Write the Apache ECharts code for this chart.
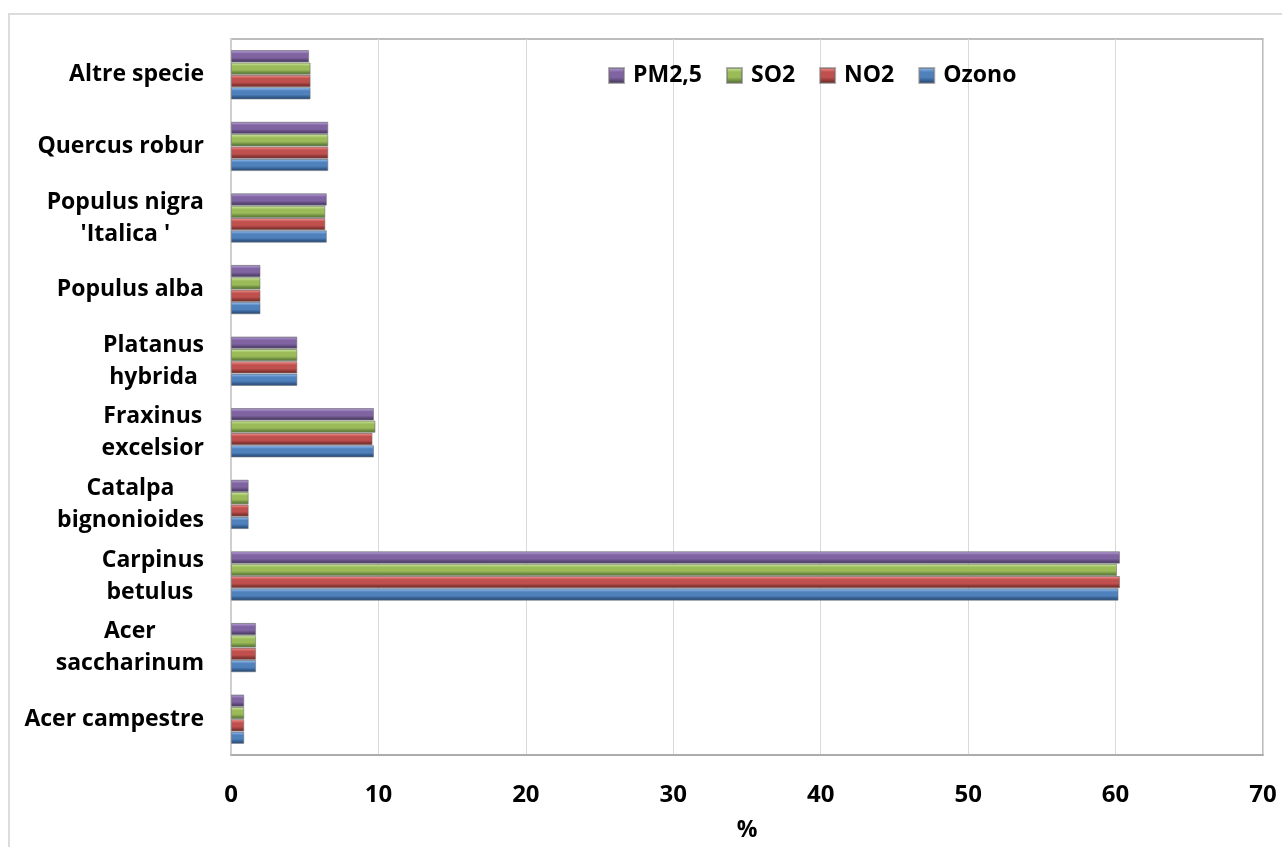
<!DOCTYPE html>
<html>
<head>
<meta charset="utf-8">
<script src="https://cdn.jsdelivr.net/npm/echarts@6/dist/echarts.min.js"></script>
<style>
  html, body { margin: 0; padding: 0; background: #ffffff; }
  #chart { width: 1282px; height: 847px; }
</style>
</head>
<body>
<div id="chart"></div>
<script>
// Species (bottom to top along the category axis)
const categories = [
  'Acer campestre',
  'Acer\nsaccharinum',
  'Carpinus\nbetulus ',
  'Catalpa\nbignonioides',
  'Fraxinus\nexcelsior',
  'Platanus\nhybrida',
  'Populus alba',
  "Populus nigra\n'Italica '",
  'Quercus robur',
  'Altre specie'
];

// Share (%) of removal per pollutant
const ozono = [0.9, 1.7, 60.2, 1.2, 9.7, 4.5, 2.0, 6.5, 6.6, 5.4];
const no2   = [0.9, 1.7, 60.3, 1.2, 9.6, 4.5, 2.0, 6.4, 6.6, 5.4];
const so2   = [0.9, 1.7, 60.1, 1.2, 9.8, 4.5, 2.0, 6.4, 6.6, 5.4];
const pm25  = [0.9, 1.7, 60.3, 1.2, 9.7, 4.5, 2.0, 6.5, 6.6, 5.3];

const xTicks = { min: 0, max: 70, step: 10 };
const legendOrder = ['PM2,5', 'SO2', 'NO2', 'Ozono'];

const FONT = '"Open Sans", "DejaVu Sans", sans-serif';

// Bevelled fill: light top edge, flat middle, dark bottom edge
function bevel(base, light, dark) {
  return new echarts.graphic.LinearGradient(0, 0, 0, 1, [
    { offset: 0, color: dark },
    { offset: 0.1, color: light },
    { offset: 0.3, color: base },
    { offset: 0.6, color: base },
    { offset: 0.85, color: dark },
    { offset: 1, color: dark }
  ]);
}

const palette = {
  'Ozono': bevel('#4f81bd', '#86b1e6', '#2f5585'),
  'NO2':   bevel('#c0504d', '#e8837f', '#813230'),
  'SO2':   bevel('#9bbb59', '#c2de8e', '#64833c'),
  'PM2,5': bevel('#8064a2', '#a991cb', '#53426e')
};

function barSeries(name, values) {
  return {
    name: name,
    type: 'bar',
    data: values,
    barGap: '0%',
    barCategoryGap: '31%',
    itemStyle: {
      color: palette[name],
      borderColor: 'rgba(110,110,110,0.55)',
      borderWidth: 1
    }
  };
}

const chart = echarts.init(document.getElementById('chart'));

chart.setOption({
  animation: false,
  backgroundColor: '#ffffff',
  textStyle: { fontFamily: FONT },
  graphic: [{
    type: 'rect',
    shape: { x: 9, y: 14, width: 1300, height: 860 },
    style: { fill: 'none', stroke: '#dcdcdc', lineWidth: 2 },
    silent: true
  }],
  legend: {
    data: legendOrder,
    left: 603,
    top: 59,
    itemWidth: 15,
    itemHeight: 15,
    itemGap: 24,
    icon: 'rect',
    textStyle: {
      fontFamily: FONT,
      fontWeight: 'bold',
      fontSize: 23,
      color: '#000000',
      padding: [0, 0, 0, 4]
    }
  },
  grid: {
    left: 231,
    right: 19,
    top: 39,
    bottom: 86,
    show: true,
    borderColor: '#a6a6a6',
    borderWidth: 1.5,
    containLabel: false
  },
  xAxis: {
    type: 'value',
    min: xTicks.min,
    max: xTicks.max,
    interval: xTicks.step,
    name: '%',
    nameLocation: 'middle',
    nameGap: 64,
    nameTextStyle: { fontFamily: FONT, fontWeight: 'bold', fontSize: 23, color: '#000000' },
    axisLine: { show: true, lineStyle: { color: '#a6a6a6', width: 1.5 } },
    axisTick: { show: false },
    axisLabel: {
      margin: 28,
      fontFamily: FONT,
      fontWeight: 'bold',
      fontSize: 24,
      color: '#000000'
    },
    splitLine: { show: true, lineStyle: { color: '#d9d9d9', width: 1 } }
  },
  yAxis: {
    type: 'category',
    data: categories,
    axisLine: { show: true, lineStyle: { color: '#cfcfcf', width: 2 } },
    axisTick: { show: false },
    splitLine: { show: false },
    axisLabel: {
      margin: 27,
      align: 'right',
      formatter: function (value) {
        return value.split('\n').map(function (line) { return '{c|' + line + '}'; }).join('\n');
      },
      rich: {
        c: {
          align: 'center',
          fontFamily: FONT,
          fontWeight: 'bold',
          fontSize: 23,
          lineHeight: 32,
          color: '#000000'
        }
      }
    }
  },
  series: [
    barSeries('PM2,5', pm25),
    barSeries('SO2', so2),
    barSeries('NO2', no2),
    barSeries('Ozono', ozono)
  ]
});
</script>
</body>
</html>
